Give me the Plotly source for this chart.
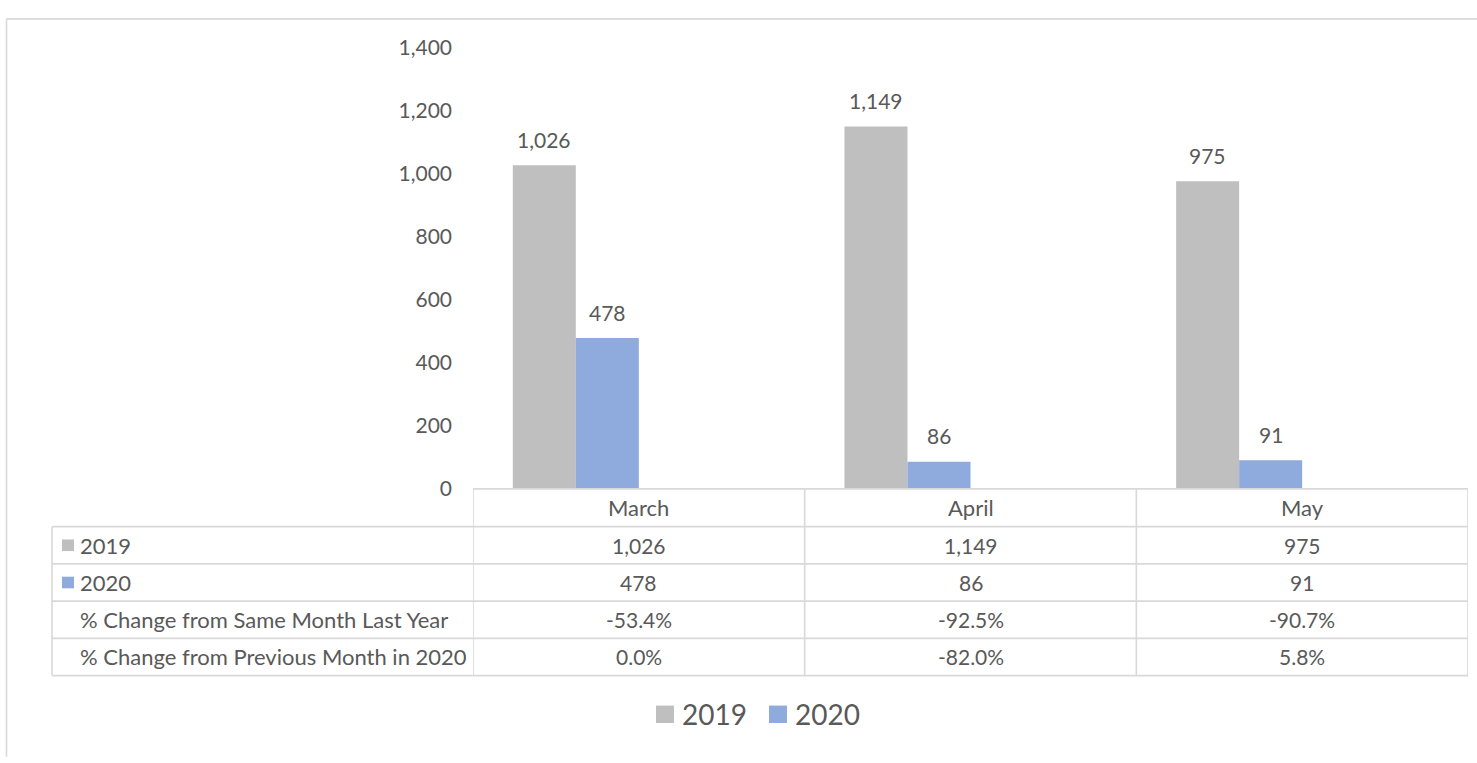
import plotly.graph_objects as go

# ---- data ----
months = ["March", "April", "May"]
v2019 = [1026, 1149, 975]
v2020 = [478, 86, 91]
pct_yoy = [-53.4, -92.5, -90.7]
pct_mom = [0.0, -82.0, 5.8]
series_names = ["2019", "2020"]
row_labels = ["2019", "2020", "% Change from Same Month Last Year",
              "% Change from Previous Month in 2020"]
y_ticks = [0, 200, 400, 600, 800, 1000, 1200, 1400]

# ---- style ----
W, H = 1477, 763
FONT = "Lato, 'Open Sans', sans-serif"
TXT = "#595959"
LINE = "#d9d9d9"
C2019 = "#bfbfbf"
C2020 = "#8faadc"
colors = [C2019, C2020]
FS_NUM = 21
FS_TXT = 22


def px(x):
    return x / W


def py(y):
    return 1 - y / H


PLOT_L, PLOT_R = 473, 1468
Y0_PX, YTOP_PX = 491, 34.3
TABLE_L = 52
row_edges = [491, 530, 568.5, 607, 645.5, 684]
bar_w = 0.19
bargap = 1 - 4 * bar_w

fig = go.Figure()
fig.add_bar(x=months, y=v2019, name=series_names[0], marker_color=C2019,
            marker_line_width=0, showlegend=False)
fig.add_bar(x=months, y=v2020, name=series_names[1], marker_color=C2020,
            marker_line_width=0, showlegend=False)
# percentage series (part of the chart data, invisible at this scale)
fig.add_bar(x=months, y=[p / 100 for p in pct_yoy], name=row_labels[2],
            marker_color="rgba(0,0,0,0)", showlegend=False, hoverinfo="skip")
fig.add_bar(x=months, y=[p / 100 for p in pct_mom], name=row_labels[3],
            marker_color="rgba(0,0,0,0)", showlegend=False, hoverinfo="skip")

shapes = []
annotations = []

# bar value labels
for k, vals in enumerate([v2019, v2020]):
    off = -(1 - bargap) / 2 + bar_w * (k + 0.5)
    for i, v in enumerate(vals):
        annotations.append(dict(x=i + off, y=v, xref="x", yref="y",
                                text=f"{v:,}", showarrow=False,
                                yanchor="middle", yshift=26,
                                font=dict(family=FONT, size=FS_NUM, color=TXT)))

# table grid
lw = 1.6
shapes.append(dict(type="line", xref="paper", yref="paper",
                   x0=px(PLOT_L), x1=px(PLOT_R), y0=py(row_edges[0]), y1=py(row_edges[0]),
                   line=dict(color=LINE, width=lw)))
for ye in row_edges[1:]:
    shapes.append(dict(type="line", xref="paper", yref="paper",
                       x0=px(TABLE_L), x1=px(PLOT_R), y0=py(ye), y1=py(ye),
                       line=dict(color=LINE, width=lw)))
for xb in [-0.5, 0.5, 1.5, 2.5]:
    shapes.append(dict(type="line", xref="x", yref="paper",
                       x0=xb, x1=xb, y0=py(row_edges[0]), y1=py(row_edges[-1]),
                       line=dict(color=LINE, width=lw)))
shapes.append(dict(type="line", xref="paper", yref="paper",
                   x0=px(TABLE_L), x1=px(TABLE_L), y0=py(row_edges[1]), y1=py(row_edges[-1]),
                   line=dict(color=LINE, width=lw)))

# outer chart frame (top and left edges visible)
shapes.append(dict(type="line", xref="paper", yref="paper",
                   x0=px(6.5), x1=px(W + 5), y0=py(5), y1=py(5),
                   line=dict(color=LINE, width=lw)))
shapes.append(dict(type="line", xref="paper", yref="paper",
                   x0=px(6.5), x1=px(6.5), y0=py(5), y1=py(H + 5),
                   line=dict(color=LINE, width=lw)))

# header (category) row
hc = (row_edges[0] + row_edges[1]) / 2
for i, m in enumerate(months):
    annotations.append(dict(x=i, y=py(hc), xref="x", yref="paper", text=m,
                            showarrow=False, yanchor="middle",
                            font=dict(family=FONT, size=FS_TXT, color=TXT)))

# data rows
row_values = [
    [f"{v:,}" for v in v2019],
    [f"{v:,}" for v in v2020],
    [f"{p:.1f}%" for p in pct_yoy],
    [f"{p:.1f}%" for p in pct_mom],
]
for r, (lab, vals) in enumerate(zip(row_labels, row_values)):
    yc = (row_edges[r + 1] + row_edges[r + 2]) / 2
    annotations.append(dict(x=px(78), y=py(yc), xref="paper", yref="paper",
                            text=lab, showarrow=False, xanchor="left",
                            yanchor="middle",
                            font=dict(family=FONT, size=FS_TXT, color=TXT)))
    if r < 2:
        shapes.append(dict(type="rect", xref="paper", yref="paper",
                           x0=px(62), x1=px(74), y0=py(yc - 6), y1=py(yc + 6),
                           fillcolor=colors[r], line=dict(width=0)))
    for i, t in enumerate(vals):
        annotations.append(dict(x=i, y=py(yc), xref="x", yref="paper", text=t,
                                showarrow=False, yanchor="middle",
                                font=dict(family=FONT, size=FS_NUM, color=TXT)))

# legend (bottom)
LY = 724
leg_items = [(656, 680), (769, 793)]
for (sx, tx), name, col in zip(leg_items, series_names, colors):
    shapes.append(dict(type="rect", xref="paper", yref="paper",
                       x0=px(sx), x1=px(sx + 18), y0=py(LY - 9), y1=py(LY + 9),
                       fillcolor=col, line=dict(width=0)))
    annotations.append(dict(x=px(tx), y=py(LY), xref="paper", yref="paper",
                            text=name, showarrow=False, xanchor="left",
                            yanchor="middle",
                            font=dict(family=FONT, size=28, color=TXT)))

fig.update_layout(
    width=W, height=H, autosize=False,
    margin=dict(l=0, r=0, t=0, b=0),
    paper_bgcolor="white", plot_bgcolor="white",
    barmode="group", bargap=bargap, bargroupgap=0,
    font=dict(family=FONT, size=FS_NUM, color=TXT),
    shapes=shapes, annotations=annotations,
    showlegend=False,
    xaxis=dict(domain=[px(PLOT_L), px(PLOT_R)], type="category",
               categoryorder="array", categoryarray=months,
               range=[-0.5, 2.5], showticklabels=False, showline=False,
               showgrid=False, zeroline=False, ticks=""),
    yaxis=dict(domain=[py(Y0_PX), py(YTOP_PX)], range=[0, 1400],
               tickvals=y_ticks, ticktext=[f"{t:,}" for t in y_ticks],
               showgrid=False, zeroline=False, showline=False, ticks="",
               ticklabelstandoff=20,
               tickfont=dict(family=FONT, size=FS_NUM, color=TXT)),
)

fig.write_html(
    "out.html",
    config={"displayModeBar": False},
    post_script="document.body.style.margin='0';document.body.style.padding='0';"
                "document.documentElement.style.overflow='hidden';",
)
